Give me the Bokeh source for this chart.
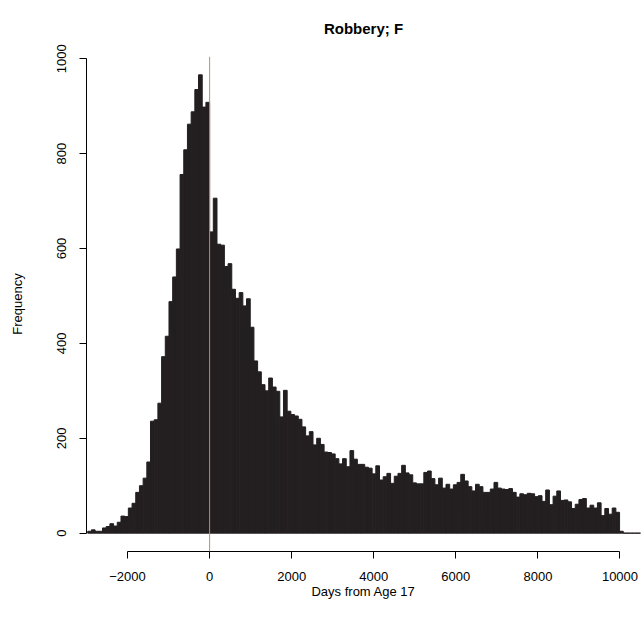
from bokeh.plotting import figure
from bokeh.models import Span, FixedTicker, Range1d, Title
from bokeh.embed import file_html
from bokeh.resources import INLINE

# ---- data ----
title_text = "Robbery; F"
x_label = "Days from Age 17"
y_label = "Frequency"
bin_start = -2970
bin_width = 90
counts = [
    4, 7, 4, 4, 11, 14, 20, 15, 23, 36, 35, 53, 63, 86, 100, 116, 150, 236, 239, 274,
    372, 415, 488, 540, 599, 756, 808, 862, 888, 935, 966, 898, 908,
    635, 706, 609, 607, 562, 568, 514, 495, 507, 479, 494, 434, 363, 340, 313, 300, 327,
    308, 299, 245, 301, 257, 250, 247, 240, 224, 205, 214, 186, 200, 187, 171, 170, 167,
    157, 146, 157, 140, 174, 156, 145, 145, 139, 137, 125, 142, 112, 119, 126, 105, 120,
    126, 143, 127, 123, 106, 104, 104, 128, 131, 115, 102, 116, 95, 103, 93, 102, 107,
    124, 110, 98, 89, 103, 98, 86, 86, 93, 107, 95, 93, 92, 94, 86, 76, 83, 81, 84, 83,
    77, 79, 67, 91, 60, 78, 89, 69, 70, 66, 52, 61, 71, 73, 53, 59, 53, 64, 37, 52, 40,
    53, 44, 4, 0, 0, 0, 0, 0, 0,
]
x_ticks = [-2000, 0, 2000, 4000, 6000, 8000, 10000]
y_ticks = [0, 200, 400, 600, 800, 1000]
x_lim = (-2500, 10000)
vline_at = 0

# ---- derived ----
lefts = [bin_start + i * bin_width for i in range(len(counts))]
rights = [l + bin_width for l in lefts]
ymax = max(counts)
xpad = 0.04 * (x_lim[1] - x_lim[0])
x_lo, x_hi = x_lim[0] - xpad, x_lim[1] + xpad
y_lo, y_hi = -0.04 * ymax, 1.04 * ymax

FONT = "Liberation Sans"
BAR = "#231F20"

p = figure(width=644, height=633, output_backend="svg", toolbar_location=None,
           x_range=Range1d(x_lo, x_hi), y_range=Range1d(y_lo, y_hi),
           min_border_left=86, min_border_right=4, min_border_top=56, min_border_bottom=82)
p.outline_line_color = None
p.xgrid.visible = False
p.ygrid.visible = False

p.quad(left=lefts, right=rights, bottom=0, top=counts,
       fill_color=BAR, line_color=BAR, line_width=1)

p.add_layout(Span(location=vline_at, dimension="height", line_color="#D0894E", line_width=1))

t = Title(text=title_text, align="center", text_font=FONT, text_font_size="15px",
          text_font_style="bold", text_color="#000000", standoff=36,
          vertical_align="top")
p.add_layout(t, "above")

for ax in (p.xaxis[0], p.yaxis[0]):
    ax.axis_line_color = "#000000"
    ax.axis_line_width = 1
    ax.major_tick_line_color = "#000000"
    ax.major_tick_out = 7
    ax.major_tick_in = 0
    ax.minor_tick_line_color = None
    ax.major_label_text_font = FONT
    ax.major_label_text_font_size = "13px"
    ax.major_label_text_color = "#000000"
    ax.axis_label_text_font = FONT
    ax.axis_label_text_font_size = "13px"
    ax.axis_label_text_font_style = "normal"
    ax.axis_label_text_color = "#000000"

p.xaxis[0].ticker = FixedTicker(ticks=x_ticks)
p.xaxis[0].bounds = (x_ticks[0], x_ticks[-1])
p.xaxis[0].axis_label = x_label
p.xaxis[0].major_label_standoff = 13
p.xaxis[0].axis_label_standoff = 0

p.yaxis[0].ticker = FixedTicker(ticks=y_ticks)
p.yaxis[0].bounds = (y_ticks[0], y_ticks[-1])
p.yaxis[0].axis_label = y_label
p.yaxis[0].major_label_orientation = "vertical"
p.yaxis[0].major_label_standoff = 13
p.yaxis[0].axis_label_standoff = 30

open("out.html", "w").write(file_html(p, INLINE))
